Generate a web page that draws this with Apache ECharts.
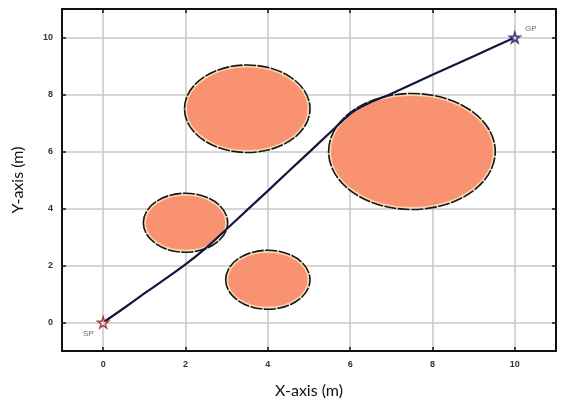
<!DOCTYPE html>
<html>
<head>
<meta charset="utf-8">
<script src="https://cdn.jsdelivr.net/npm/echarts@6/dist/echarts.min.js"></script>
<style>
  html, body { margin: 0; padding: 0; background: #fff; }
  #chart { width: 563px; height: 404px; }
</style>
</head>
<body>
<div id="chart"></div>
<script>
// Axis ticks (metres)
const xTicks = [0, 2, 4, 6, 8, 10];
const yTicks = [0, 2, 4, 6, 8, 10];

// Circular obstacles: centre and radius (m)
const obstacleX = [3.5, 7.5, 2, 4];
const obstacleY = [7.5, 6, 3.5, 1.5];
const obstacleR = [1.5, 2, 1, 1];

// Planned path from start to goal
const pathX = [0, 0.5, 1, 1.5, 2, 2.5, 3, 3.5, 4, 4.5, 5, 5.5, 5.89, 6.13, 6.4, 7, 8, 9, 10];
const pathY = [0, 0.5, 1.02, 1.52, 2.04, 2.62, 3.28, 3.95, 4.62, 5.3, 5.97, 6.65, 7.18, 7.45, 7.66, 8.03, 8.69, 9.34, 10];

// Start and goal points
const startPoint = [0, 0];
const goalPoint = [10, 10];

const starPath = 'path://M50,0 L61,35 L98,35 L68,57 L79,91 L50,70 L21,91 L32,57 L2,35 L39,35 Z';

const obstacles = obstacleX.map((x, i) => [x, obstacleY[i], obstacleR[i]]);
const path = pathX.map((x, i) => [x, pathY[i]]);

const chart = echarts.init(document.getElementById('chart'));

const tickLabel = { color: '#333', fontSize: 9, fontWeight: 'bold', fontFamily: 'Liberation Sans' };
const tickStyle = { color: '#111', width: 1.5 };

function axisCommon(extra) {
  return Object.assign({
    type: 'value', min: -1, max: 11,
    axisLine: { show: true, onZero: false, lineStyle: { color: '#111', width: 2 } },
    splitLine: { show: false }
  }, extra);
}

chart.setOption({
  animation: false,
  grid: { left: 62, right: 7, top: 9, bottom: 52 },
  xAxis: [
    axisCommon({
      position: 'bottom',
      name: 'X-axis (m)', nameLocation: 'middle', nameGap: 32,
      nameTextStyle: { color: '#111', fontSize: 16, fontFamily: 'Lato' },
      axisLabel: Object.assign({ customValues: xTicks, margin: 9 }, tickLabel),
      axisTick: { show: true, inside: true, length: 4, customValues: xTicks, lineStyle: tickStyle },
      splitLine: { show: true, lineStyle: { color: '#c9c9c9', width: 1.5 } }
    }),
    axisCommon({
      position: 'top',
      axisLabel: { show: false },
      axisTick: { show: true, inside: true, length: 4, customValues: xTicks, lineStyle: tickStyle }
    })
  ],
  yAxis: [
    axisCommon({
      position: 'left',
      name: 'Y-axis (m)', nameLocation: 'middle', nameGap: 36,
      nameTextStyle: { color: '#111', fontSize: 16, fontFamily: 'Lato' },
      axisLabel: Object.assign({ customValues: yTicks, margin: 9 }, tickLabel),
      axisTick: { show: true, inside: true, length: 4, customValues: yTicks, lineStyle: tickStyle },
      splitLine: { show: true, lineStyle: { color: '#c9c9c9', width: 1.5 } }
    }),
    axisCommon({
      position: 'right',
      axisLabel: { show: false },
      axisTick: { show: true, inside: true, length: 4, customValues: yTicks, lineStyle: tickStyle }
    })
  ],
  series: [
    {
      // obstacles drawn as circles in data units
      type: 'custom',
      data: obstacles,
      z: 2,
      renderItem: function (params, api) {
        const c = api.coord([api.value(0), api.value(1)]);
        const s = api.size([api.value(2), api.value(2)]);
        const rx = s[0], ry = s[1];
        return {
          type: 'group',
          children: [
            {
              type: 'ellipse',
              shape: { cx: c[0], cy: c[1], rx: rx, ry: ry },
              style: { fill: '#f99271', stroke: '#f6d9b4', lineWidth: 3 }
            },
            {
              type: 'ellipse',
              shape: { cx: c[0], cy: c[1], rx: rx + 1, ry: ry + 1 },
              style: { fill: null, stroke: '#161616', lineWidth: 1.6, lineDash: [12, 1.5] }
            }
          ]
        };
      }
    },
    {
      type: 'line',
      data: path,
      z: 3,
      showSymbol: false,
      smooth: 0.15,
      lineStyle: { color: '#15153d', width: 2.2 }
    },
    {
      type: 'scatter',
      z: 4,
      data: [startPoint],
      symbol: starPath,
      symbolSize: 11,
      itemStyle: { color: '#fff', borderColor: '#8b1a1a', borderWidth: 1.5 },
      label: { show: true, formatter: 'SP', position: [-14, 14], color: '#444', fontSize: 8, fontFamily: 'Liberation Sans' }
    },
    {
      type: 'scatter',
      z: 4,
      data: [goalPoint],
      symbol: starPath,
      symbolSize: 10,
      itemStyle: { color: '#fff', borderColor: '#1f1f5a', borderWidth: 1.8 },
      label: { show: true, formatter: 'GP', position: [16, -7], color: '#444', fontSize: 8, fontFamily: 'Liberation Sans' }
    }
  ]
});
</script>
</body>
</html>
